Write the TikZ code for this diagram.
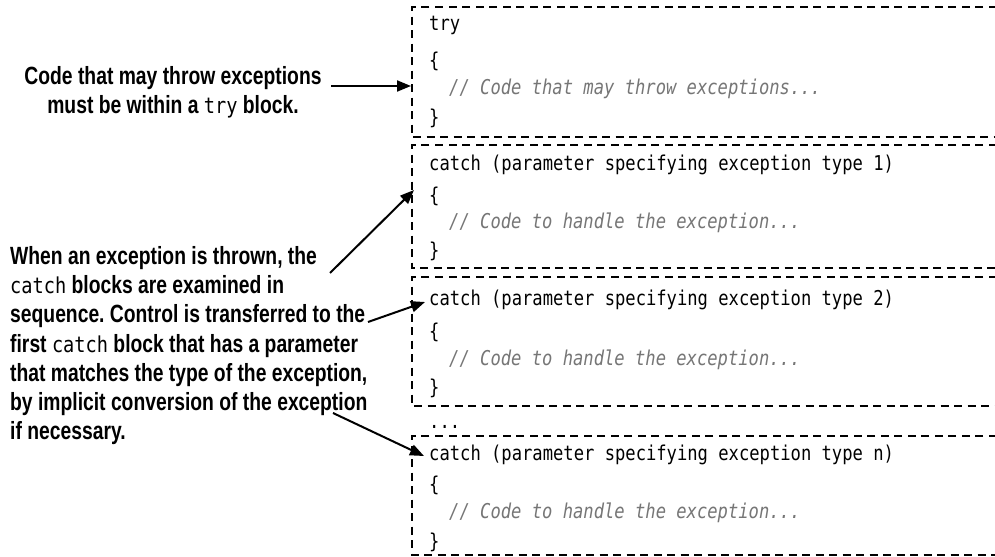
\documentclass[tikz,border=0pt]{standalone}
\usepackage{fontspec}
\usetikzlibrary{arrows.meta}
\setmainfont{Liberation Sans}
\newfontfamily\labelfont[FakeStretch=0.775]{Liberation Sans Bold}
\newfontfamily\codefont[FakeStretch=0.84]{DejaVu Sans Mono}
\newfontfamily\inlinefont[FakeStretch=0.85]{DejaVu Sans Mono}
\newcommand{\inlinecode}[1]{{\inlinefont\fontsize{22}{22}\selectfont #1}}
\definecolor{cmtgray}{RGB}{118,118,118}
\frenchspacing
\tikzset{
  blockbox/.style={draw, line width=2bp, dash pattern=on 8bp off 5.5bp},
  codeline/.style={anchor=base west, inner sep=0, font=\codefont\fontsize{20.5}{20.5}\selectfont},
  cmtline/.style={anchor=base west, inner sep=0, text=cmtgray, font=\codefont\itshape\fontsize{20.5}{20.5}\selectfont},
  note/.style={inner sep=0, font=\labelfont\fontsize{25}{29.4}\selectfont},
  pointer/.style={line width=2bp, -{Triangle[length=14bp,width=11bp]}}
}
\begin{document}
\begin{tikzpicture}[x=1bp, y=-1bp]
\useasboundingbox (0,0) rectangle (995,557);
\clip (0,0) rectangle (995,557);
\fill[white] (0,0) rectangle (995,557);

% blocks
\draw[blockbox] (1010,7) -- (412,7) -- (412,137) -- (1010,137);
\draw[blockbox] (1010,145) -- (412,145) -- (412,268) -- (1010,268);
\draw[blockbox] (1010,277) -- (412,277) -- (412,406) -- (1010,406);
\draw[blockbox] (1010,436) -- (412,436) -- (412,555) -- (1010,555);

% try block
\node[codeline] (t1) at (429,31) {try};
\node[codeline] (t2) at (429,68) {\{};
\node[cmtline]  (t3) at (449,95) {// Code that may throw exceptions...};
\node[codeline] (t4) at (429,125) {\}};

% catch 1
\node[codeline] (a1) at (429,171) {catch (parameter specifying exception type 1)};
\node[codeline] (a2) at (429,203) {\{};
\node[cmtline]  (a3) at (449,229) {// Code to handle the exception...};
\node[codeline] (a4) at (429,258) {\}};

% catch 2
\node[codeline] (b1) at (429,306) {catch (parameter specifying exception type 2)};
\node[codeline] (b2) at (429,339) {\{};
\node[cmtline]  (b3) at (449,366) {// Code to handle the exception...};
\node[codeline] (b4) at (429,394) {\}};

\node[codeline] (dots) at (429,428) {...};

% catch n
\node[codeline] (c1) at (429,460) {catch (parameter specifying exception type n)};
\node[codeline] (c2) at (429,491) {\{};
\node[cmtline]  (c3) at (449,518) {// Code to handle the exception...};
\node[codeline] (c4) at (429,548) {\}};

% notes
\node[note, align=center, anchor=north] (n1) at (173,66)
  {Code that may throw exceptions\\must be within a \inlinecode{try} block.};
\node[note, align=left, anchor=north west] (n2) at (10,246)
  {When an exception is thrown, the\\
   \inlinecode{catch} blocks are examined in\\
   sequence. Control is transferred to the\\
   first \inlinecode{catch} block that has a parameter\\
   that matches the type of the exception,\\
   by implicit conversion of the exception\\
   if necessary.};

% arrow endpoints
\coordinate (s1) at (331,86);   \coordinate (e1) at (411,86);
\coordinate (s2) at (330,273);  \coordinate (e2) at (414,190);
\coordinate (s3) at (368,322);  \coordinate (e3) at (425,302);
\coordinate (s4) at (333,413);  \coordinate (e4) at (424,456);

\draw[pointer] (s1) -- (e1);
\draw[pointer] (s2) -- (e2);
\draw[pointer] (s3) -- (e3);
\draw[pointer] (s4) -- (e4);
\end{tikzpicture}
\end{document}
